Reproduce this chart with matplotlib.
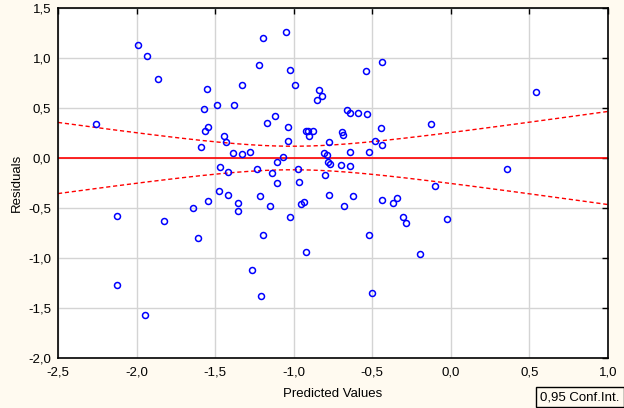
import numpy as np
import matplotlib
matplotlib.use("Agg")
import matplotlib.pyplot as plt
from matplotlib.ticker import FuncFormatter, MultipleLocator

# predicted values and residuals
predicted = [
    -2.260, -1.993, -1.936, -1.864, -1.592, -1.573, -1.554, -1.567, -1.546, -1.490,
    -1.444, -1.433, -1.387, -1.380, -1.330, -1.330, -1.279, -1.223, -1.196, -1.172,
    -1.120, -1.052, -1.024, -1.037, -1.037, -1.071, -1.109, -0.994, -0.854, -0.842,
    -1.469, -1.419, -1.234, -1.141, -1.109, -0.973, -0.967, -1.476, -1.419, -1.215,
    -0.924, -0.912, -0.903, -0.880, -2.125, -2.125, -1.949, -1.828, -1.641, -1.609,
    -1.546, -1.355, -1.355, -1.151, -1.196, -1.266, -1.209, -1.024, -0.956, -0.935,
    -0.922, -0.681, -0.441, -0.369, -0.305, -0.286, -0.025, -0.522, -0.197, -0.505,
    -0.441, -0.541, -0.821, -0.662, -0.643, -0.592, -0.534, -0.445, -0.127, 0.541,
    -0.693, -0.687, -0.776, -0.483, -0.439, -0.643, -0.522, -0.808, -0.789, -0.783,
    -0.770, -0.700, -0.643, -0.802, 0.356, -0.102, -0.776, -0.624, -0.343,
]
residuals = [
    0.343, 1.133, 1.023, 0.793, 0.106, 0.493, 0.693, 0.273, 0.306, 0.533,
    0.223, 0.163, 0.053, 0.533, 0.733, 0.043, 0.063, 0.933, 1.203, 0.353,
    0.423, 1.263, 0.883, 0.313, 0.173, 0.006, -0.037, 0.733, 0.583, 0.683,
    -0.094, -0.137, -0.107, -0.147, -0.247, -0.107, -0.237, -0.327, -0.367, -0.377,
    0.273, 0.273, 0.216, 0.266, -0.577, -1.267, -1.567, -0.627, -0.497, -0.797,
    -0.434, -0.447, -0.527, -0.477, -0.767, -1.117, -1.377, -0.587, -0.457, -0.437,
    -0.937, -0.477, -0.417, -0.447, -0.587, -0.647, -0.607, -0.767, -0.957, -1.347,
    0.963, 0.873, 0.623, 0.483, 0.453, 0.453, 0.443, 0.303, 0.343, 0.663,
    0.256, 0.233, 0.163, 0.173, 0.133, 0.063, 0.063, 0.053, 0.033, -0.037,
    -0.057, -0.067, -0.077, -0.167, -0.107, -0.277, -0.367, -0.377, -0.397,
]
conf_level = "0,95"
t_crit = 1.985

plt.rcParams['font.family'] = ['Liberation Sans', 'DejaVu Sans']
plt.rcParams['axes.unicode_minus'] = False

x = np.array(predicted)
y = np.array(residuals)
n = len(x)
s = np.sqrt(np.sum(y ** 2) / (n - 2))
xbar = x.mean()
sxx = np.sum((x - xbar) ** 2)

fig = plt.figure(figsize=(6.24, 4.08), dpi=100, facecolor="#FFFAF0")
ax = fig.add_axes([58 / 624, 50 / 408, 550 / 624, 350 / 408])

# confidence band around the zero line
xs = np.linspace(-2.5, 1.0, 200)
half = t_crit * s * np.sqrt(1 / n + (xs - xbar) ** 2 / sxx)

ax.grid(True, color="#D4D4D4", linewidth=1.0)
ax.set_axisbelow(True)
ax.plot(xs, half, color="red", linestyle=(0, (3, 2)), linewidth=1.0)
ax.plot(xs, -half, color="red", linestyle=(0, (3, 2)), linewidth=1.0)
ax.axhline(0, color="red", linewidth=1.2)
ax.plot(x, y, linestyle="none", marker="o", markersize=4.3,
        markerfacecolor="none", markeredgecolor="#0000FF", markeredgewidth=1.1)

ax.set_xlim(-2.5, 1.0)
ax.set_ylim(-2.0, 1.5)
ax.xaxis.set_major_locator(MultipleLocator(0.5))
ax.yaxis.set_major_locator(MultipleLocator(0.5))
comma = FuncFormatter(lambda v, p: f"{v:.1f}".replace(".", ","))
ax.xaxis.set_major_formatter(comma)
ax.yaxis.set_major_formatter(comma)
ax.tick_params(direction="in", length=4, width=1, top=True, right=True,
               left=False, bottom=False, labelsize=9.5, colors="black")
ax.tick_params(axis="x", pad=6)
ax.tick_params(axis="y", pad=5)
for sp in ax.spines.values():
    sp.set_color("black")
    sp.set_linewidth(1.2)

ax.set_xlabel("Predicted Values", fontsize=9.5, labelpad=7)
ax.set_ylabel("Residuals", fontsize=9.5, labelpad=4)

fig.text(580 / 624, 1 - 397 / 408, f"{conf_level} Conf.Int.", fontsize=9.5,
         ha="center", va="center",
         bbox=dict(boxstyle="square,pad=0.3", facecolor="#FFFAF0", edgecolor="black", linewidth=1))

fig.savefig("out.png", dpi=100, facecolor=fig.get_facecolor())
